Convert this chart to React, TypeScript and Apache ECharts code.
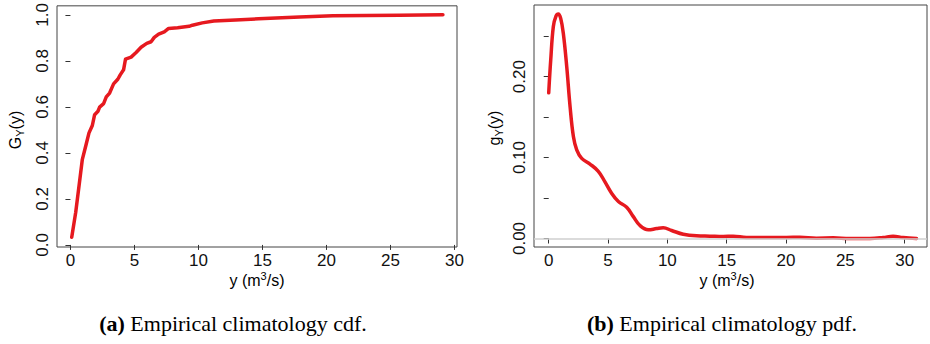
import React, { useEffect, useRef } from "react";
import * as echarts from "echarts";

// Empirical climatology cdf (panel a)
const cdfX = [0.1, 0.41, 0.67, 0.93, 1.19, 1.45, 1.71, 1.89, 2.15, 2.28, 2.59, 2.8, 3.06, 3.37, 3.7, 3.89, 4.15, 4.3, 4.74, 5.13, 5.52, 5.96, 6.3, 6.55, 6.89, 7.33, 7.67, 8.37, 9.27, 9.53, 10.3, 11.2, 12.9, 14.7, 17.9, 20.5, 23.1, 25.7, 29.1];
const cdfY = [0.033, 0.141, 0.256, 0.372, 0.429, 0.487, 0.519, 0.566, 0.581, 0.599, 0.614, 0.643, 0.66, 0.7, 0.72, 0.739, 0.761, 0.807, 0.816, 0.836, 0.859, 0.876, 0.883, 0.902, 0.916, 0.926, 0.941, 0.944, 0.95, 0.955, 0.965, 0.973, 0.977, 0.983, 0.991, 0.996, 0.997, 0.9985, 1.0];

// Empirical climatology pdf (panel b)
const pdfX = [0, 0.17, 0.39, 0.62, 0.81, 1.01, 1.23, 1.52, 1.8, 2.08, 2.36, 2.78, 3.48, 4.18, 4.74, 5.3, 5.87, 6.57, 7.13, 7.69, 8.39, 9.1, 9.65, 10.36, 11.34, 12.46, 13.58, 14.7, 15.55, 16.67, 18.07, 20.04, 21.16, 22.56, 23.97, 25.37, 27.06, 28.18, 29.02, 29.86, 31.0];
const pdfY = [0.18, 0.2206, 0.262, 0.275, 0.2774, 0.272, 0.2535, 0.212, 0.163, 0.126, 0.1095, 0.099, 0.092, 0.083, 0.07, 0.056, 0.0457, 0.0387, 0.027, 0.016, 0.0107, 0.0123, 0.0132, 0.0099, 0.0053, 0.0033, 0.0029, 0.0025, 0.0029, 0.0012, 0.0012, 0.0012, 0.0016, 0.0004, 0.0008, 0, 0, 0.0012, 0.0029, 0.0012, 0];

const xTicks = [0, 5, 10, 15, 20, 25, 30];
const cdfYTicks = [0, 0.2, 0.4, 0.6, 0.8, 1.0];
const pdfYTicks = [0, 0.05, 0.1, 0.15, 0.2, 0.25];
const pdfYLabels = [0, 0.1, 0.2];

const captionA = "Empirical climatology cdf.";
const captionB = "Empirical climatology pdf.";

const RED = "#e6191f";
const SANS = "'Liberation Sans', Arial, sans-serif";
const SERIF = "'Liberation Serif', 'Times New Roman', serif";

function xAxis(gridIndex: number, min: number, max: number) {
  return {
    type: "value",
    gridIndex,
    min,
    max,
    splitLine: { show: false },
    axisLine: { show: false },
    axisTick: { show: true, length: 5, customValues: xTicks, lineStyle: { color: "#333", width: 1 } },
    axisLabel: {
      customValues: xTicks,
      margin: 5,
      fontSize: 17,
      fontFamily: SANS,
      color: "#111",
      formatter: (v: number) => String(v),
    },
  };
}

function yAxis(gridIndex: number, min: number, max: number, ticks: number[], labels: number[], digits: number, margin: number) {
  return {
    type: "value",
    gridIndex,
    min,
    max,
    splitLine: { show: false },
    axisLine: { show: false },
    axisTick: { show: true, length: 5, customValues: ticks, lineStyle: { color: "#333", width: 1 } },
    axisLabel: {
      customValues: labels,
      rotate: 90,
      margin,
      fontSize: 17,
      fontFamily: SANS,
      color: "#111",
      formatter: (v: number) => v.toFixed(digits),
    },
  };
}

export default function App() {
  const ref = useRef<HTMLDivElement>(null);
  useEffect(() => {
    if (!ref.current) return;
    const chart = echarts.init(ref.current, undefined, { renderer: "svg" });
    const richAxis = {
      a: { fontSize: 16, fontFamily: SANS, color: "#111", lineHeight: 20, verticalAlign: "middle" },
      sub: { fontSize: 11, fontFamily: SANS, color: "#111", lineHeight: 11, verticalAlign: "bottom" },
      sup: { fontSize: 11, fontFamily: SANS, color: "#111", lineHeight: 11, verticalAlign: "top" },
    };
    const richCap = {
      b: { fontSize: 22, fontFamily: SERIF, fontWeight: "bold", color: "#000" },
      n: { fontSize: 22, fontFamily: SERIF, color: "#000" },
    };
    chart.setOption({
      animation: false,
      grid: [
        { left: 57, top: 5, width: 400, height: 242, show: true, borderColor: "#444", borderWidth: 1, backgroundColor: "transparent" },
        { left: 534, top: 5, width: 393, height: 242, show: true, borderColor: "#444", borderWidth: 1, backgroundColor: "transparent" },
      ],
      xAxis: [xAxis(0, -1.05, 30.2), xAxis(1, -1.24, 31.88)],
      yAxis: [
        yAxis(0, -0.009, 1.039, cdfYTicks, cdfYTicks, 1, 6),
        yAxis(1, -0.0105, 0.2885, pdfYTicks, pdfYLabels, 2, 6),
      ],
      series: [
        {
          type: "line",
          xAxisIndex: 0,
          yAxisIndex: 0,
          data: cdfX.map((x, i) => [x, cdfY[i]]),
          showSymbol: false,
          lineStyle: { color: RED, width: 3.5, cap: "round", join: "round" },
        },
        {
          type: "line",
          xAxisIndex: 1,
          yAxisIndex: 1,
          data: [],
          showSymbol: false,
          markLine: {
            silent: true,
            symbol: "none",
            label: { show: false },
            lineStyle: { color: "#cfcfcf", width: 1.5, type: "solid" },
            data: [{ yAxis: 0 }],
          },
        },
        {
          type: "line",
          xAxisIndex: 1,
          yAxisIndex: 1,
          data: pdfX.map((x, i) => [x, pdfY[i]]),
          showSymbol: false,
          smooth: 0.4,
          z: 3,
          lineStyle: { color: RED, width: 3.5, cap: "round", join: "round" },
        },
      ],
      graphic: [
        {
          type: "text",
          x: 257,
          y: 280,
          style: { text: "{a|y (m}{sup|3}{a|/s)}", rich: richAxis, align: "center", verticalAlign: "middle" },
        },
        {
          type: "text",
          x: 727,
          y: 280,
          style: { text: "{a|y (m}{sup|3}{a|/s)}", rich: richAxis, align: "center", verticalAlign: "middle" },
        },
        {
          type: "text",
          x: 15,
          y: 130,
          rotation: Math.PI / 2,
          style: { text: "{a|G}{sub|Y}{a|(y)}", rich: richAxis, align: "center", verticalAlign: "middle" },
        },
        {
          type: "text",
          x: 494,
          y: 128,
          rotation: Math.PI / 2,
          style: { text: "{a|g}{sub|Y}{a|(y)}", rich: richAxis, align: "center", verticalAlign: "middle" },
        },
        {
          type: "text",
          x: 233,
          y: 323,
          style: { text: "{b|(a)}{n| " + captionA + "}", rich: richCap, align: "center", verticalAlign: "middle" },
        },
        {
          type: "text",
          x: 722,
          y: 323,
          style: { text: "{b|(b)}{n| " + captionB + "}", rich: richCap, align: "center", verticalAlign: "middle" },
        },
      ],
    });
    return () => chart.dispose();
  }, []);
  return (
    <div
      ref={ref}
      style={{ position: "absolute", left: 0, top: 0, width: 930, height: 344, background: "#fff" }}
    />
  );
}
